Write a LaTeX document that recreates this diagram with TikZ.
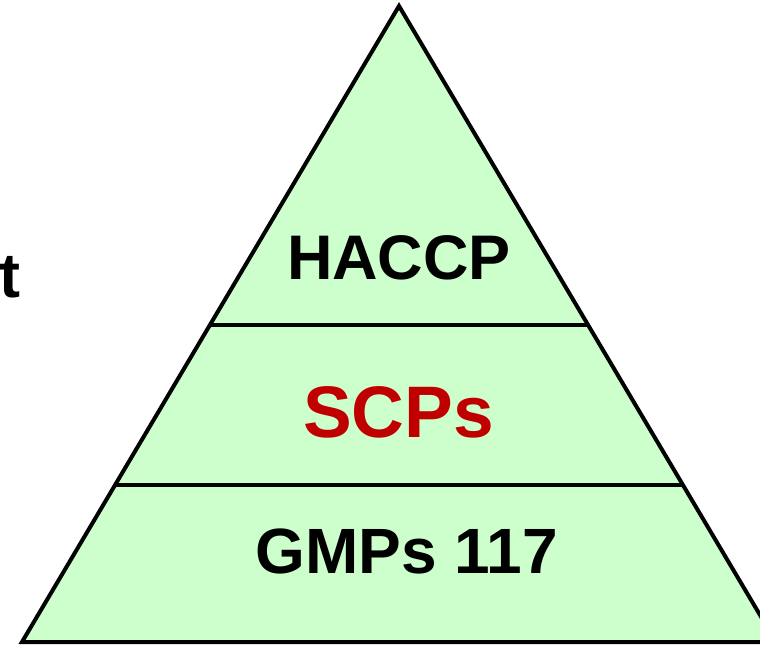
\documentclass[tikz,border=0pt]{standalone}
\usepackage{fontspec}
\setmainfont{Liberation Sans}
\usetikzlibrary{calc}
\definecolor{pgreen}{HTML}{CCFFCC}
\definecolor{pred}{HTML}{C00000}
\begin{document}
\begin{tikzpicture}[x=1pt,y=-1pt,
  lbl/.style={font=\bfseries, inner sep=0pt, anchor=base},
  edge/.style={line width=4pt, line join=miter}]
\useasboundingbox (0,0) rectangle (760,646);
\begin{scope}
\clip (0,0) rectangle (760,646);
\coordinate (apex) at (399,6);
\coordinate (bl) at (22,642);
\coordinate (br) at (776,642);
\filldraw[edge, fill=pgreen] (apex) -- (br) -- (bl) -- cycle;
\coordinate (a1) at ($(bl)!0.4984!(apex)$);
\coordinate (b1) at ($(br)!0.4984!(apex)$);
\coordinate (a2) at ($(bl)!0.2469!(apex)$);
\coordinate (b2) at ($(br)!0.2469!(apex)$);
\draw[line width=3.5pt] (a1) -- (b1);
\draw[line width=3.5pt] (a2) -- (b2);
\end{scope}
\node[lbl, font=\fontsize{63}{70}\selectfont\bfseries] (haccp) at (399,279) {HACCP};
\node[lbl, text=pred, font=\fontsize{73}{80}\selectfont\bfseries] (scps) at (398.5,437) {SCPs};
\node[lbl, font=\fontsize{64}{70}\selectfont\bfseries] (gmps) at (406.5,573) {GMPs 117};
\node[lbl, anchor=base west, font=\fontsize{63}{70}\selectfont\bfseries] (t) at (-1,297) {t};
\end{tikzpicture}
\end{document}
